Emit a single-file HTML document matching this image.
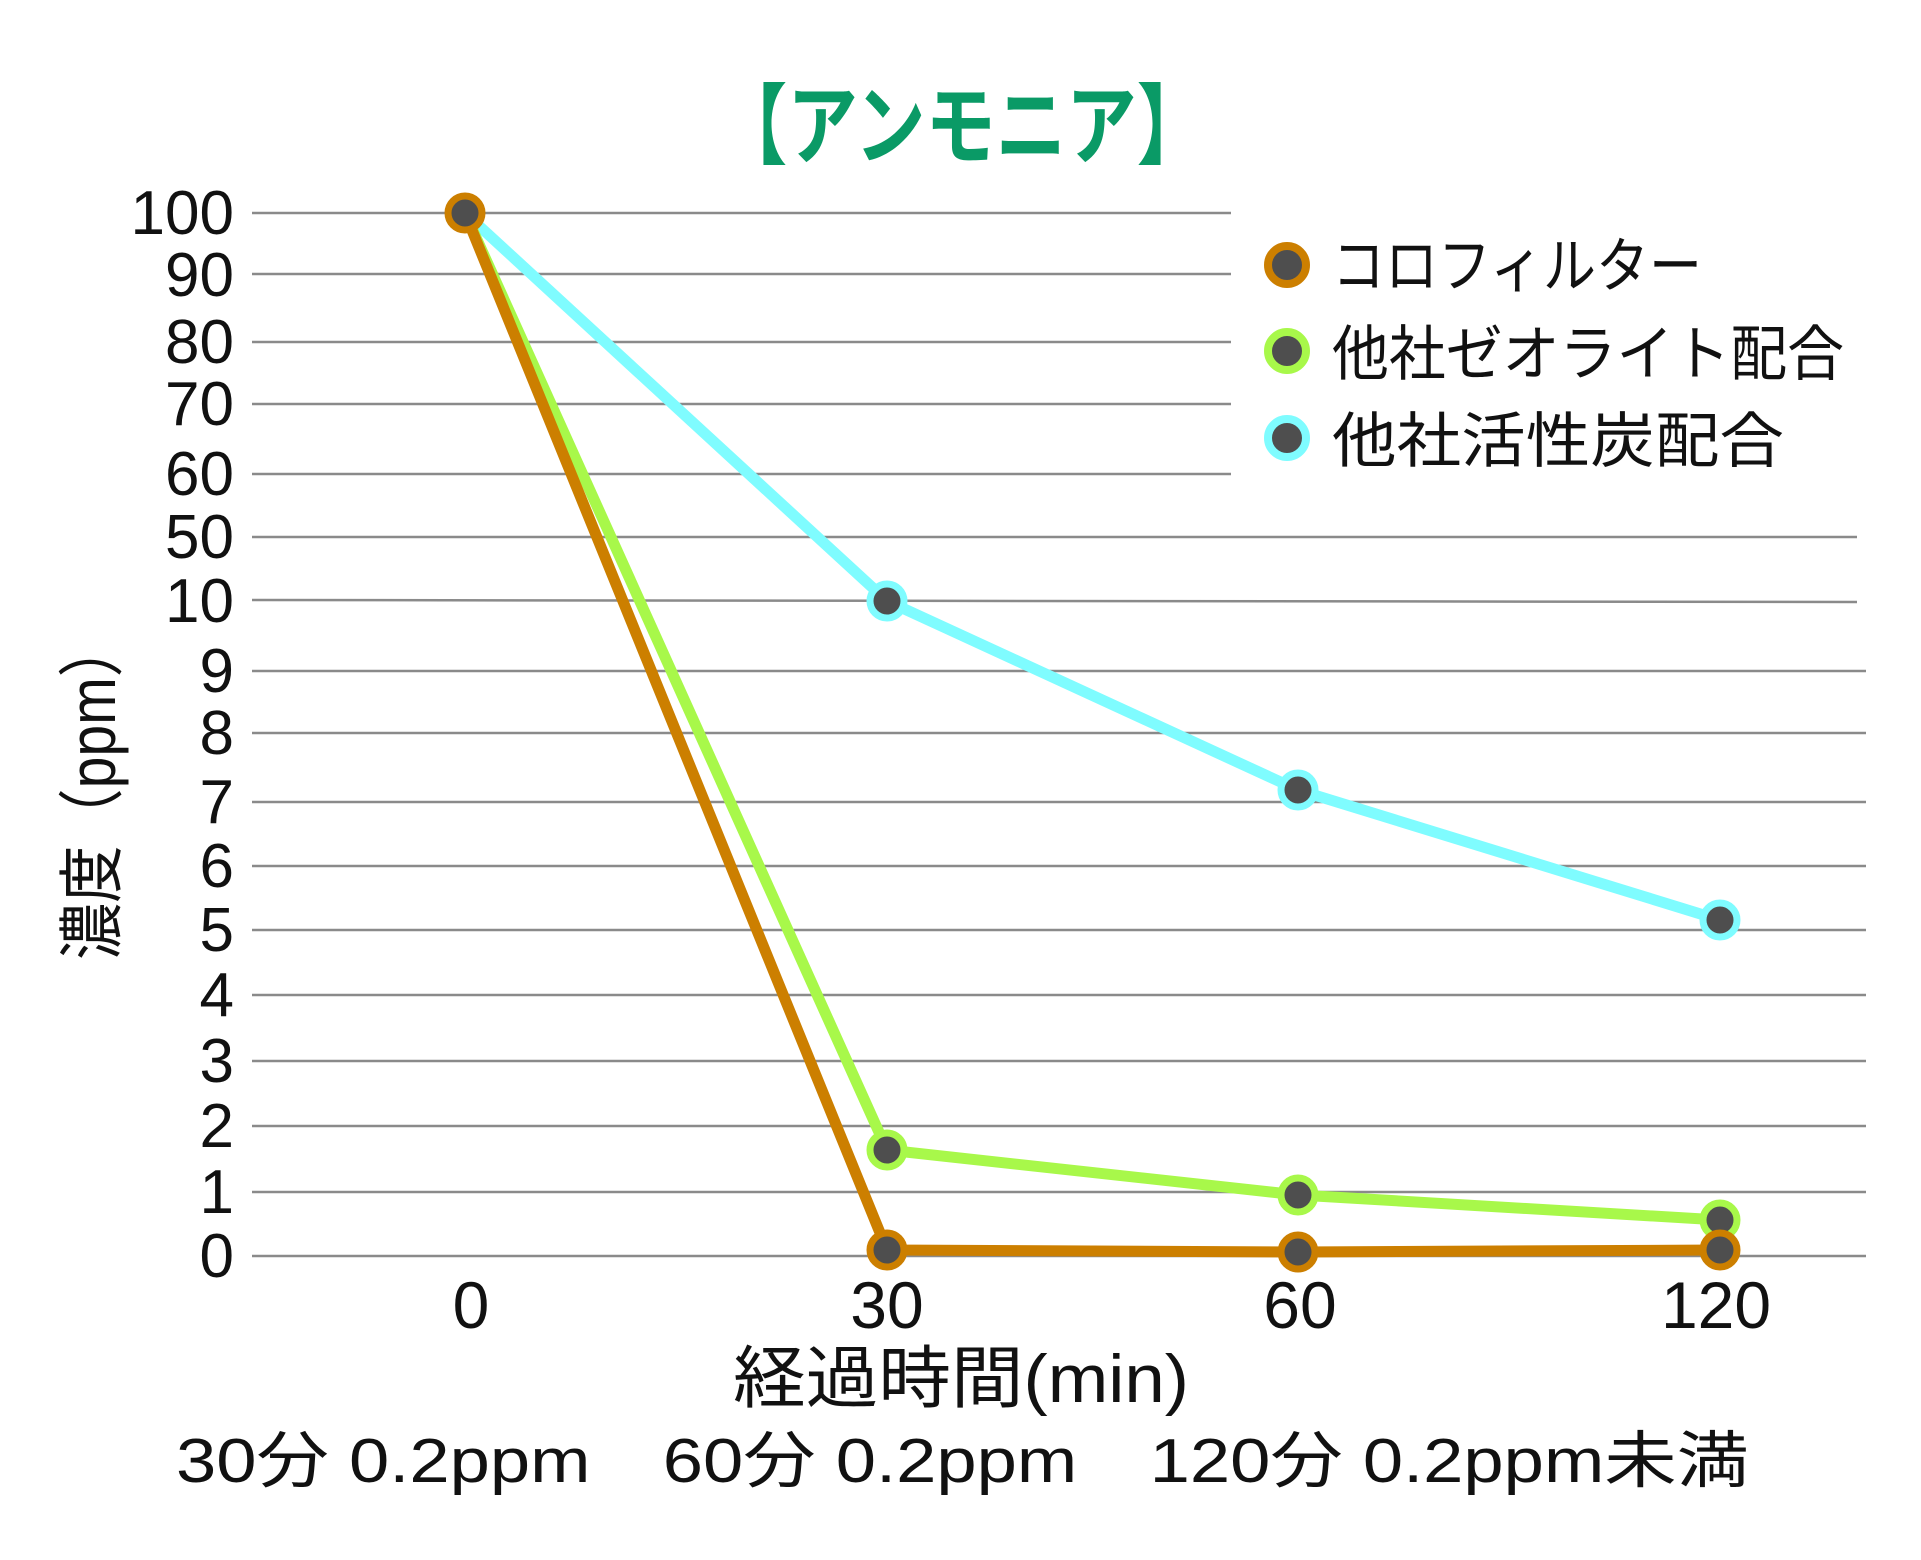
<!DOCTYPE html>
<html><head><meta charset="utf-8"><style>
html,body{margin:0;padding:0;background:#fff;}
svg{display:block;}
text{font-family:"Liberation Sans","Noto Sans CJK JP",sans-serif;}
</style></head><body>
<svg width="1921" height="1560" viewBox="0 0 1921 1560" xmlns="http://www.w3.org/2000/svg">
<rect width="1921" height="1560" fill="#fff"/>
<text x="962" y="157" text-anchor="middle" font-size="88" font-weight="bold" fill="#0a9a66" textLength="490" lengthAdjust="spacingAndGlyphs" style="font-family:'Noto Sans CJK JP',sans-serif">【アンモニア】</text>
<g stroke="#8a8a8a" stroke-width="2.5">
<line x1="252" y1="213" x2="1231" y2="213"/>
<line x1="252" y1="274" x2="1231" y2="274"/>
<line x1="252" y1="342" x2="1231" y2="342"/>
<line x1="252" y1="404" x2="1231" y2="404"/>
<line x1="252" y1="474" x2="1231" y2="474"/>
<line x1="252" y1="537" x2="1857" y2="537"/>
<line x1="252" y1="600" x2="1857" y2="602"/>
<line x1="252" y1="671" x2="1866" y2="671"/>
<line x1="252" y1="733" x2="1866" y2="733"/>
<line x1="252" y1="802" x2="1866" y2="802"/>
<line x1="252" y1="866" x2="1866" y2="866"/>
<line x1="252" y1="930" x2="1866" y2="930"/>
<line x1="252" y1="995" x2="1866" y2="995"/>
<line x1="252" y1="1061" x2="1866" y2="1061"/>
<line x1="252" y1="1126" x2="1866" y2="1126"/>
<line x1="252" y1="1192" x2="1866" y2="1192"/>
<line x1="252" y1="1256" x2="1866" y2="1256"/>
</g>
<g font-size="62" text-anchor="end" fill="#111">
<text x="234" y="234">100</text>
<text x="234" y="296">90</text>
<text x="234" y="363">80</text>
<text x="234" y="425">70</text>
<text x="234" y="495">60</text>
<text x="234" y="558">50</text>
<text x="234" y="622">10</text>
<text x="234" y="692">9</text>
<text x="234" y="754">8</text>
<text x="234" y="823">7</text>
<text x="234" y="887">6</text>
<text x="234" y="951">5</text>
<text x="234" y="1016">4</text>
<text x="234" y="1082">3</text>
<text x="234" y="1147">2</text>
<text x="234" y="1213">1</text>
<text x="234" y="1277">0</text>
</g>
<text transform="translate(115,790) rotate(-90)" text-anchor="middle" font-size="66" fill="#111" textLength="340" lengthAdjust="spacingAndGlyphs">濃度（ppm）</text>
<g fill="none" stroke-width="11" stroke-linejoin="round" stroke-linecap="round">
<polyline stroke="#7ffcff" points="465,213 887,601 1298,790 1720,920"/>
<polyline stroke="#a8f84a" points="465,213 887,1150 1298,1195 1720,1220"/>
<polyline stroke="#cc7f00" points="465,213 887,1250 1298,1252 1720,1250"/>
</g>
<g stroke-width="7" fill="#4e4e4e">
<g stroke="#7ffcff"><circle cx="887" cy="601" r="17"/><circle cx="1298" cy="790" r="17"/><circle cx="1720" cy="920" r="17"/></g>
<g stroke="#a8f84a"><circle cx="887" cy="1150" r="17"/><circle cx="1298" cy="1195" r="17"/><circle cx="1720" cy="1220" r="17"/></g>
<g stroke="#cc7f00"><circle cx="465" cy="213" r="17"/><circle cx="887" cy="1250" r="17"/><circle cx="1298" cy="1252" r="17"/><circle cx="1720" cy="1250" r="17"/></g>
</g>
<g stroke-width="8" fill="#4e4e4e">
<circle cx="1287" cy="265" r="19" stroke="#cc7f00"/>
<circle cx="1287" cy="351" r="19" stroke="#a8f84a"/>
<circle cx="1287" cy="438" r="19" stroke="#7ffcff"/>
</g>
<g font-size="60" fill="#111" style="font-family:'Noto Sans CJK JP',sans-serif">
<text x="1332" y="287" textLength="370" lengthAdjust="spacingAndGlyphs">コロフィルター</text>
<text x="1332" y="375" textLength="512" lengthAdjust="spacingAndGlyphs">他社ゼオライト配合</text>
<text x="1332" y="462" textLength="452" lengthAdjust="spacingAndGlyphs">他社活性炭配合</text>
</g>
<g font-size="66" text-anchor="middle" fill="#111">
<text x="471" y="1328">0</text>
<text x="887" y="1328">30</text>
<text x="1300" y="1328">60</text>
<text x="1716" y="1328">120</text>
</g>
<text x="733" y="1402" font-size="68" fill="#111" textLength="456" lengthAdjust="spacingAndGlyphs">経過時間(min)</text>
<text x="176" y="1482" font-size="62" fill="#111" textLength="1573" lengthAdjust="spacingAndGlyphs">30分 0.2ppm　60分 0.2ppm　120分 0.2ppm未満</text>
</svg>
</body></html>
